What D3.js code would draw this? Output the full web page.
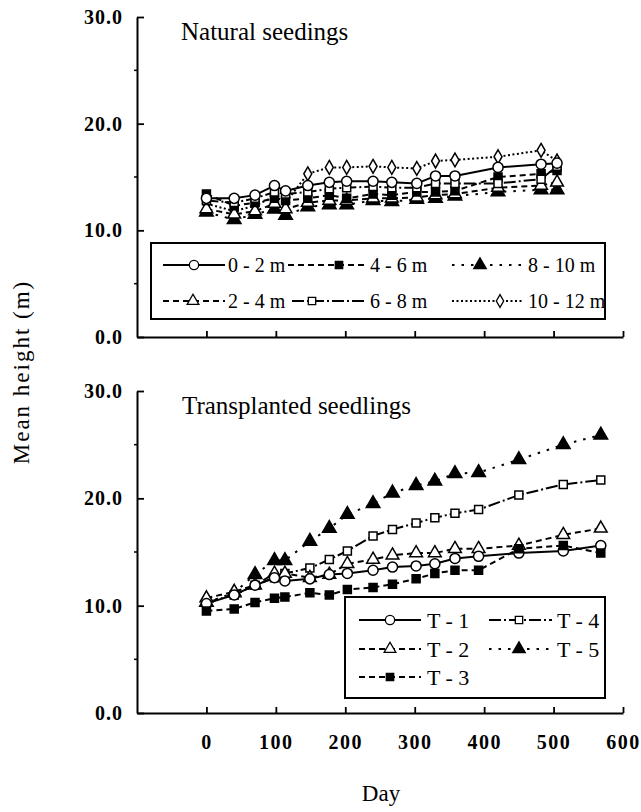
<!DOCTYPE html>
<html><head><meta charset="utf-8">
<script src="https://cdn.jsdelivr.net/npm/d3@7"></script>
<style>
body{margin:0;background:#fff;}
svg{display:block;background:#fff;font-family:"Liberation Serif","Times New Roman",serif;}
</style></head>
<body><svg id="c" width="641" height="812"></svg>
<script>
// ---------- DATA ----------
const dayTicks = [0, 100, 200, 300, 400, 500, 600];
const heightTicks = [0, 10, 20, 30];
const minorHeightTicks = [5, 15, 25];

const naturalDays = [0, 40, 70, 98, 114, 146, 177, 202, 240, 267, 303, 330, 358, 420, 482, 505];
const natural_0_2   = [13.0, 13.0, 13.3, 14.2, 13.7, 14.2, 14.5, 14.6, 14.6, 14.5, 14.4, 15.1, 15.1, 15.9, 16.2, 16.3];
const natural_2_4   = [12.0, 11.5, 11.8, 12.5, 12.0, 12.6, 12.8, 12.8, 13.0, 13.0, 13.1, 13.3, 13.4, 14.0, 14.2, 14.5];
const natural_4_6   = [13.4, 12.3, 12.6, 13.0, 12.8, 13.0, 13.3, 13.0, 13.4, 13.3, 13.6, 13.6, 13.7, 15.0, 15.3, 15.6];
const natural_6_8   = [12.8, 12.6, 13.0, 13.6, 13.4, 13.6, 13.9, 14.0, 14.1, 14.0, 14.0, 14.4, 14.4, 14.4, 14.8, 16.0];
const natural_8_10  = [11.7, 11.0, 11.5, 12.0, 11.4, 12.2, 12.4, 12.4, 12.8, 12.7, 12.9, 13.0, 13.2, 13.6, 13.8, 13.8];
const natural_10_12 = [12.5, 11.8, 12.3, 13.2, 12.6, 15.3, 15.9, 15.9, 16.0, 15.9, 15.8, 16.5, 16.6, 16.9, 17.5, 16.5];
const naturalNames = ["0 - 2 m", "2 - 4 m", "4 - 6 m", "6 - 8 m", "8 - 10 m", "10 - 12 m"];

const transDays = [0, 40, 70, 98, 113, 149, 177, 203, 240, 268, 302, 329, 358, 392, 450, 514, 568];
const trans_T1 = [10.2, 11.0, 11.9, 12.6, 12.3, 12.5, 12.9, 13.0, 13.3, 13.6, 13.7, 13.9, 14.4, 14.6, 14.9, 15.1, 15.6];
const trans_T2 = [10.7, 11.3, 11.9, 13.0, 13.0, 12.6, 12.9, 13.9, 14.3, 14.7, 14.9, 14.9, 15.3, 15.3, 15.6, 16.6, 17.2];
const trans_T3 = [9.5, 9.7, 10.3, 10.7, 10.8, 11.2, 11.0, 11.5, 11.7, 12.0, 12.5, 13.0, 13.3, 13.3, 15.3, 15.6, 14.9];
const trans_T4 = [10.3, 11.0, 11.9, 12.6, 13.0, 13.5, 14.3, 15.1, 16.5, 17.1, 17.7, 18.2, 18.6, 18.95, 20.3, 21.3, 21.7];
const trans_T5 = [10.3, 11.2, 12.9, 14.2, 14.2, 16.0, 17.2, 18.5, 19.5, 20.5, 21.2, 21.6, 22.3, 22.4, 23.6, 25.0, 25.9];
const transNames = ["T - 1", "T - 2", "T - 3", "T - 4", "T - 5"];

// ---------- STYLES ----------
const styles = {
  circleOpen:   {sym: d3.symbolCircle,   size: 80, fill: "#fff", dash: null},
  triOpen:      {sym: d3.symbolTriangle, size: 70, fill: "#fff", dash: "6,4"},
  squareFilled: {sym: d3.symbolSquare,   size: 64, fill: "#000", dash: "6,4"},
  squareOpen:   {sym: d3.symbolSquare,   size: 64, fill: "#fff", dash: "12,3,2,3"},
  triFilled:    {sym: d3.symbolTriangle, size: 80, fill: "#000", dash: "2.5,7"},
  diamondOpen:  {sym: d3.symbolDiamond,  size: 55, fill: "#fff", dash: "2,2.5"}
};

const svg = d3.select("#c");
const x = d3.scaleLinear().domain([-100, 600]).range([137, 623]);
const yTop = d3.scaleLinear().domain([0, 30]).range([337, 17]);
const yBot = d3.scaleLinear().domain([0, 30]).range([713, 391]);

function drawYAxis(y) {
  const g = svg.append("g").attr("transform", `translate(${x.range()[0]},0)`)
    .call(d3.axisLeft(y).tickValues(heightTicks).tickSize(-7).tickSizeOuter(0)
      .tickPadding(14).tickFormat(d3.format(".1f")));
  g.select(".domain").attr("stroke-width", 2);
  g.selectAll(".tick line").attr("stroke-width", 1.8);
  g.selectAll("text").attr("font-size", 20).attr("font-weight", "bold")
    .attr("letter-spacing", "1px").attr("font-family", "Liberation Serif");
  g.selectAll(".minor").data(minorHeightTicks).enter().append("line")
    .attr("x1", -3).attr("x2", 0).attr("y1", d => y(d)).attr("y2", d => y(d))
    .attr("stroke", "#000").attr("stroke-width", 1.5);
}
function drawXAxis(y, labels) {
  const g = svg.append("g").attr("transform", `translate(0,${y(0)})`)
    .call(d3.axisBottom(x).tickValues(dayTicks).tickSize(-6).tickSizeOuter(0).tickPadding(22));
  g.select(".domain").attr("stroke-width", 2);
  g.selectAll(".tick line").attr("stroke-width", 1.8);
  if (labels) {
    g.selectAll("text").attr("font-size", 20).attr("font-weight", "bold")
      .attr("letter-spacing", "1.5px").attr("font-family", "Liberation Serif");
  } else {
    g.selectAll("text").remove();
  }
}

function drawSeries(y, days, vals, st) {
  const pts = days.map((d, i) => ({day: d, v: vals[i]}));
  const line = d3.line().x(d => x(d.day)).y(d => y(d.v));
  svg.append("path").datum(pts).attr("d", line).attr("fill", "none")
    .attr("stroke", "#000").attr("stroke-width", 2)
    .attr("stroke-dasharray", st.dash);
  svg.append("g").selectAll("path").data(pts).enter().append("path")
    .attr("d", d3.symbol().type(st.sym).size(st.size))
    .attr("transform", d => `translate(${x(d.day)},${y(d.v)})`)
    .attr("fill", st.fill).attr("stroke", "#000").attr("stroke-width", 1.5);
}

function drawLegend(box, items, fontSize) {
  svg.append("rect").attr("x", box[0]).attr("y", box[1])
    .attr("width", box[2] - box[0]).attr("height", box[3] - box[1])
    .attr("fill", "#fff").attr("stroke", "#000").attr("stroke-width", 2);
  items.forEach(it => {
    svg.append("line").attr("x1", it.x1).attr("x2", it.x2).attr("y1", it.y).attr("y2", it.y)
      .attr("stroke", "#000").attr("stroke-width", 2).attr("stroke-dasharray", it.st.dash);
    svg.append("path").attr("d", d3.symbol().type(it.st.sym).size(it.st.size * 0.85)())
      .attr("transform", `translate(${it.mx},${it.y})`)
      .attr("fill", it.st.fill).attr("stroke", "#000").attr("stroke-width", 1.3);
    svg.append("text").attr("x", it.tx).attr("y", it.y + fontSize * 0.35)
      .attr("font-size", fontSize).text(it.name);
  });
}

// ---------- TOP PANEL ----------
drawYAxis(yTop);
drawXAxis(yTop, false);
const natVals = [natural_0_2, natural_2_4, natural_4_6, natural_6_8, natural_8_10, natural_10_12];
const natStyles = [styles.circleOpen, styles.triOpen, styles.squareFilled, styles.squareOpen, styles.triFilled, styles.diamondOpen];
[5, 4, 1, 2, 3, 0].forEach(i => drawSeries(yTop, naturalDays, natVals[i], natStyles[i]));
svg.append("text").attr("x", 181).attr("y", 40).attr("font-size", 25).text("Natural seedings");

drawLegend([151, 243, 605, 319], [
  {name: naturalNames[0], st: natStyles[0], y: 265, x1: 163, x2: 225, mx: 194, tx: 228},
  {name: naturalNames[1], st: natStyles[1], y: 301, x1: 163, x2: 225, mx: 193, tx: 228},
  {name: naturalNames[2], st: natStyles[2], y: 265, x1: 288, x2: 366, mx: 339, tx: 370},
  {name: naturalNames[3], st: natStyles[3], y: 301, x1: 292, x2: 366, mx: 312, tx: 370},
  {name: naturalNames[4], st: natStyles[4], y: 265, x1: 452, x2: 524, mx: 480, tx: 528},
  {name: naturalNames[5], st: natStyles[5], y: 301, x1: 452, x2: 524, mx: 500, tx: 528}
], 20);

// ---------- BOTTOM PANEL ----------
drawYAxis(yBot);
drawXAxis(yBot, true);
const trVals = [trans_T1, trans_T2, trans_T3, trans_T4, trans_T5];
const trStyles = [styles.circleOpen, styles.triOpen, styles.squareFilled, styles.squareOpen, styles.triFilled];
[4, 3, 1, 0, 2].forEach(i => drawSeries(yBot, transDays, trVals[i], trStyles[i]));
svg.append("text").attr("x", 182).attr("y", 414).attr("font-size", 25).text("Transplanted seedlings");

drawLegend([345, 597, 605, 698], [
  {name: transNames[0], st: trStyles[0], y: 620, x1: 359, x2: 421, mx: 390, tx: 427},
  {name: transNames[1], st: trStyles[1], y: 649, x1: 359, x2: 421, mx: 390, tx: 427},
  {name: transNames[2], st: trStyles[2], y: 677, x1: 359, x2: 421, mx: 390, tx: 427},
  {name: transNames[3], st: trStyles[3], y: 620, x1: 489, x2: 552, mx: 519, tx: 557},
  {name: transNames[4], st: trStyles[4], y: 649, x1: 489, x2: 552, mx: 519, tx: 557}
], 22);

// ---------- AXIS TITLES ----------
svg.append("text").attr("transform", "translate(29,372) rotate(-90)")
  .attr("text-anchor", "middle").attr("font-size", 23).attr("letter-spacing", "2px")
  .text("Mean height (m)");
svg.append("text").attr("x", 381).attr("y", 801).attr("text-anchor", "middle")
  .attr("font-size", 23).text("Day");
</script></body></html>
